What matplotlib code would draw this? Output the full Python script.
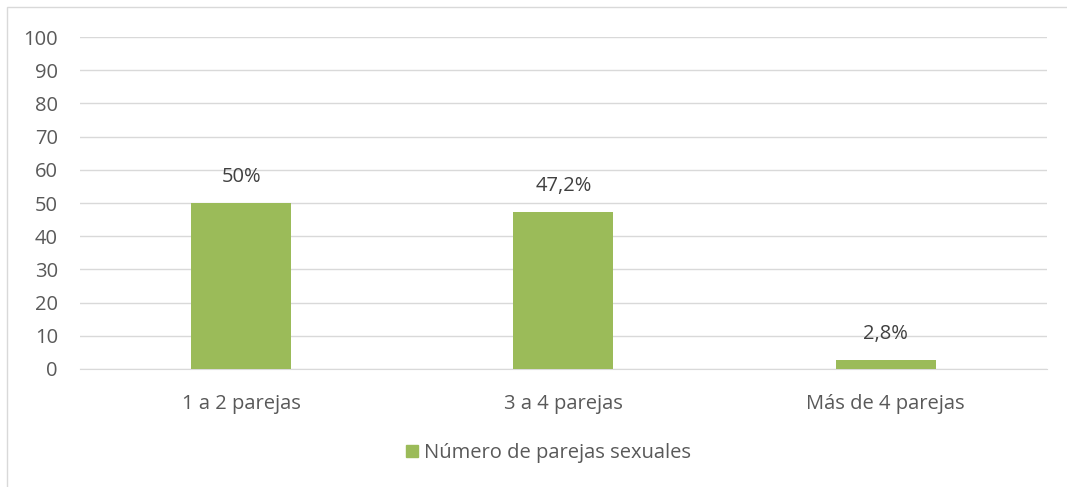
import matplotlib.pyplot as plt
from matplotlib.patches import Rectangle
from matplotlib.lines import Line2D

categories = ['1 a 2 parejas', '3 a 4 parejas', 'Más de 4 parejas']
values = [50, 47.2, 2.8]
labels = ['50%', '47,2%', '2,8%']
series_name = 'Número de parejas sexuales'

plt.rcParams['font.family'] = ['Open Sans', 'DejaVu Sans']
text_color = '#595959'
bar_color = '#9BBB59'

fig = plt.figure(figsize=(10.67, 4.87), dpi=100)
ax = fig.add_axes([0.075, 0.2423, 0.906, 0.6817])

x = range(len(categories))
bars = ax.bar(x, values, width=0.31, color=bar_color, zorder=3)
for b, lab in zip(bars, labels):
    ax.text(b.get_x() + b.get_width() / 2, b.get_height() + 7.8, lab,
            ha='center', va='center', fontsize=14.5, color='#404040')

ax.set_xlim(-0.5, 2.5)
ax.set_ylim(0, 100)
ax.set_yticks(range(0, 101, 10))
ax.set_xticks(list(x))
ax.set_xticklabels(categories)
ax.tick_params(axis='both', length=0, labelsize=14.5, colors=text_color)
ax.tick_params(axis='x', pad=18)
ax.tick_params(axis='y', pad=16)
ax.grid(axis='y', color='#D9D9D9', linewidth=1, zorder=0)
for s in ['top', 'right', 'left']:
    ax.spines[s].set_visible(False)
ax.spines['bottom'].set_color('#D9D9D9')

# legend
handle = Line2D([], [], marker='s', linestyle='none', markersize=9,
                color=bar_color)
fig.legend([handle], [series_name], loc='center', bbox_to_anchor=(0.512, 0.07),
           frameon=False, fontsize=14.5, labelcolor=text_color,
           handletextpad=0.1, handlelength=1.0)

# outer border of the chart area
fig.patches.append(Rectangle((7 / 1067, -0.1), 1.2, 1 - 7 / 487 + 0.1,
                             transform=fig.transFigure, fill=False,
                             edgecolor='#D9D9D9', linewidth=1))

fig.savefig('out.png', dpi=100)
